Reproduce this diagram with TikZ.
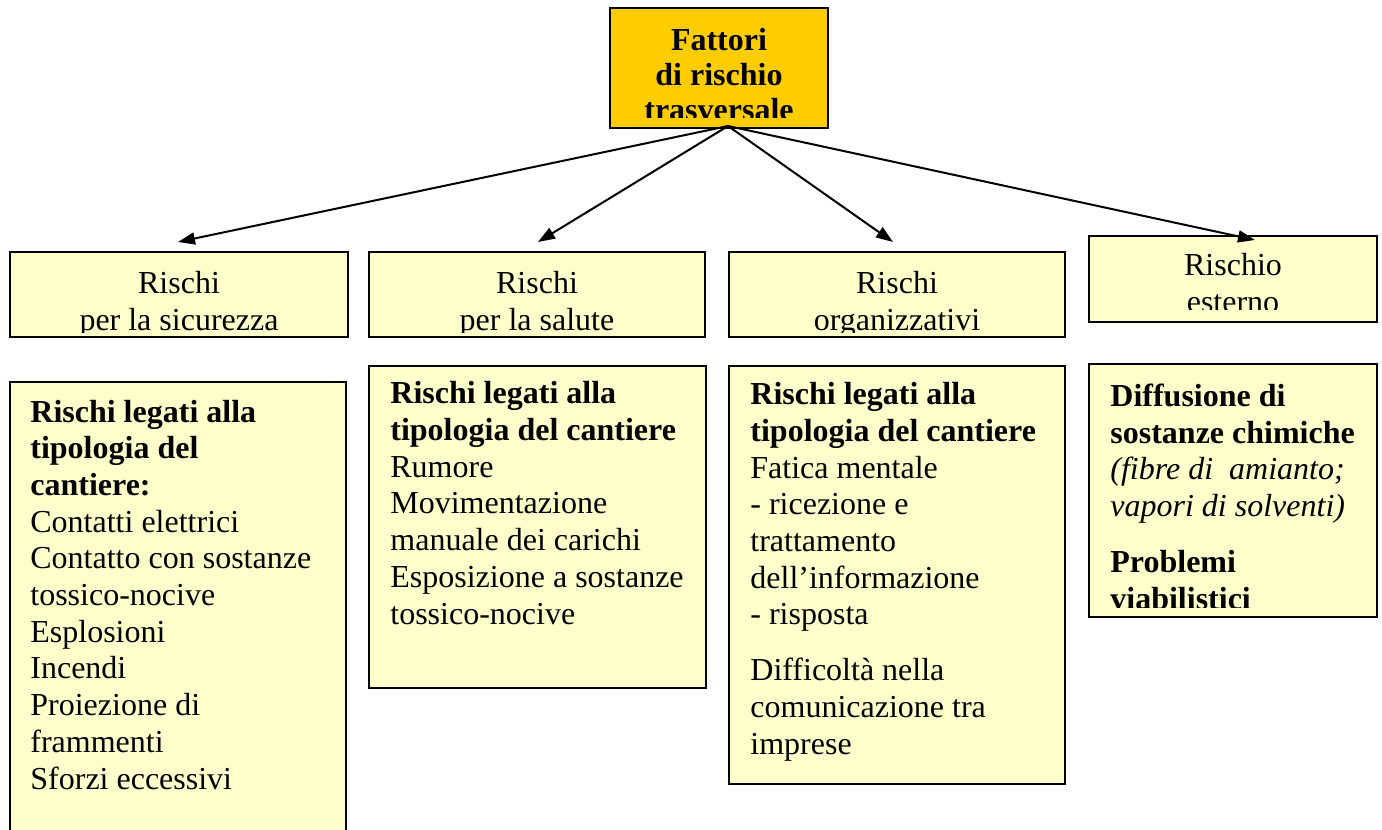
\documentclass[tikz,border=0pt]{standalone}
\usepackage{fontspec}
\setmainfont{Liberation Serif}
\usetikzlibrary{arrows.meta, fit}
\definecolor{giallo}{HTML}{FFFFCC}
\definecolor{arancio}{HTML}{FFCC00}

\tikzset{
  box/.style={draw=black, line width=1pt, fill=giallo, inner sep=0pt},
  titolo/.style={anchor=base, align=center, inner sep=0pt, font=\bfseries\fontsize{16pt}{17.5pt}\selectfont},
  voce/.style={anchor=base, align=center, inner sep=0pt, font=\fontsize{16pt}{18.35pt}\selectfont},
  elenco/.style={anchor=base west, align=left, inner sep=0pt, font=\fontsize{16pt}{18.35pt}\selectfont},
  arr/.style={-{Triangle[length=8.5pt, width=6pt]}, line width=1pt},
}

\begin{document}
\begin{tikzpicture}[x=0.5pt, y=-0.5pt]
  \useasboundingbox (0,0) rectangle (1382,830);
  \clip (0,0) rectangle (1382,830);

  % Fattori di rischio
  \node (fattori) [box, fill=arancio, fit={(610,8) (828,128)}] {};
  \begin{scope}
    \clip (610,8) rectangle (828,117);
    \node (fattoritxt) [titolo] at (719,120) {Fattori\\di rischio\\trasversale};
  \end{scope}

  % Categorie
  \node (sicurezza) [box, fit={(10,252) (348,337)}] {};
  \node (salute) [box, fit={(369,252) (705,337)}] {};
  \node (organizz) [box, fit={(729,252) (1065,337)}] {};
  \node (esterno) [box, fit={(1089,236) (1377,322)}] {};
  \begin{scope}
    \clip (10,252) rectangle (1065,332);
    \node (sicurezzatxt) [voce] at (179,330) {Rischi\\per la sicurezza};
    \node (salutetxt) [voce] at (537,330) {Rischi\\per la salute};
    \node (organizztxt) [voce] at (897,330) {Rischi\\organizzativi};
  \end{scope}
  \begin{scope}
    \clip (1089,236) rectangle (1377,309);
    \node (esternotxt) [voce] at (1233,312) {Rischio\\esterno};
  \end{scope}

  % Frecce
  \coordinate (fonte) at (728,126);
  \coordinate (t1) at (178,242);
  \coordinate (t2) at (538,242);
  \coordinate (t3) at (893,242);
  \coordinate (t4) at (1255,240);
  \foreach \t in {t1,t2,t3,t4}
    \draw[arr] (fonte) -- (\t);

  % Dettagli
  \node (dsicurezza) [box, fit={(10,382) (346,840)}] {};
  \node (dsalute) [box, fit={(369,366) (706,688)}] {};
  \node (dorganizz) [box, fit={(729,366) (1065,784)}] {};
  \node (desterno) [box, fit={(1089,364) (1377,617)}] {};

  \node (dsicurezzatxt) [elenco] at (30,789) {\textbf{Rischi legati alla}\\\textbf{tipologia del}\\\textbf{cantiere:}\\Contatti elettrici\\Contatto con sostanze\\tossico-nocive\\Esplosioni\\Incendi\\Proiezione di\\frammenti\\Sforzi eccessivi};
  \node (dsalutetxt) [elenco] at (390,624) {\textbf{Rischi legati alla}\\\textbf{tipologia del cantiere}\\Rumore\\Movimentazione\\manuale dei carichi\\Esposizione a sostanze\\tossico-nocive};
  \node (dorganizztxt) [elenco] at (750,754) {\textbf{Rischi legati alla}\\\textbf{tipologia del cantiere}\\Fatica mentale\\- ricezione e\\trattamento\\dell’informazione\\- risposta\\[9.5pt]Difficoltà nella\\comunicazione tra\\imprese};
  \begin{scope}
    \clip (1089,364) rectangle (1377,607);
    \node (desternotxt) [elenco] at (1110,609) {\textbf{Diffusione di}\\\textbf{sostanze chimiche}\\\textit{(fibre di\ \ amianto;}\\\textit{vapori di solventi)}\\[9.5pt]\textbf{Problemi}\\\textbf{viabilistici}};
  \end{scope}
\end{tikzpicture}
\end{document}
